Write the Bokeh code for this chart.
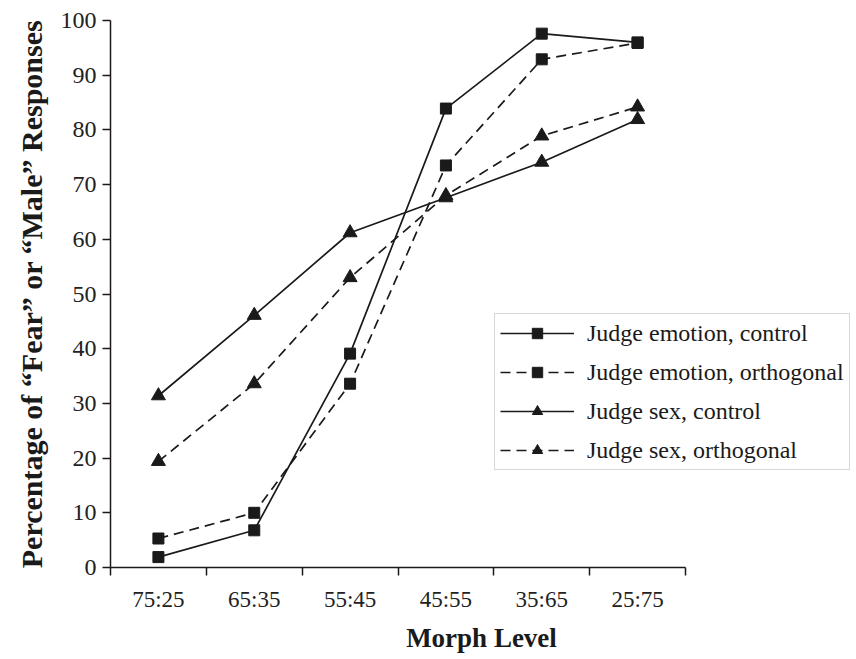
from bokeh.plotting import figure
from bokeh.models import FixedTicker, Legend, LegendItem, ColumnDataSource
from bokeh.embed import file_html
from bokeh.resources import INLINE

levels = ["75:25", "65:35", "55:45", "45:55", "35:65", "25:75"]
emotion_control = [1.9, 6.8, 39.1, 83.9, 97.6, 96.0]
emotion_orthogonal = [5.3, 10.0, 33.6, 73.5, 92.9, 95.9]
sex_control = [31.4, 46.1, 61.2, 67.6, 74.1, 81.9]
sex_orthogonal = [19.4, 33.6, 53.0, 68.0, 78.9, 84.2]
y_ticks = [0, 10, 20, 30, 40, 50, 60, 70, 80, 90, 100]

n = len(levels)
x_centers = [i + 0.5 for i in range(n)]
x_bounds = list(range(n + 1))

SERIF = "Liberation Serif"

W, H = 852, 655
LEFT, TOP, BOTTOM = 110, 20, 88
frame_w = W - LEFT
unit = 575 / n  # pixels per category
x_end = frame_w / unit

p = figure(width=W, height=H, x_range=(0, x_end), y_range=(0, 100),
           output_backend="svg", toolbar_location=None,
           min_border_left=LEFT, min_border_right=0, min_border_top=TOP, min_border_bottom=BOTTOM)
p.outline_line_color = None
p.grid.visible = False
p.background_fill_color = "white"

series = [
    ("Judge emotion, control", emotion_control, "square", "solid", 11),
    ("Judge emotion, orthogonal", emotion_orthogonal, "square", "10 6", 11),
    ("Judge sex, control", sex_control, "triangle", "solid", 14),
    ("Judge sex, orthogonal", sex_orthogonal, "triangle", "10 6", 14),
]

items = []
for name, vals, marker, dash, size in series:
    src = ColumnDataSource(dict(x=x_centers, y=vals))
    ln = p.line("x", "y", source=src, line_color="#1a1a1a", line_width=1.7, line_dash=dash)
    mk = p.scatter("x", "y", source=src, marker=marker, size=size,
                   fill_color="#1a1a1a", line_color="#1a1a1a")
    items.append(LegendItem(label=name, renderers=[ln, mk]))

legend = Legend(items=items, location=(384, 97), glyph_width=74, glyph_height=26,
                label_standoff=13, spacing=11, padding=5, margin=0,
                label_text_font=SERIF, label_text_font_size="24px", label_text_color="#1a1a1a",
                label_height=28,
                border_line_color="#b0b0b0", border_line_width=1.5,
                background_fill_alpha=1.0)
p.add_layout(legend, "center")

xa = p.xaxis[0]
xa.bounds = (0, n)
xa.ticker = FixedTicker(ticks=x_centers, minor_ticks=x_bounds)
xa.major_label_overrides = {c: lab for c, lab in zip(x_centers, levels)}
xa.major_tick_out = 0
xa.major_tick_in = 0
xa.minor_tick_out = 8
xa.minor_tick_in = 0
xa.minor_tick_line_color = "#1a1a1a"
xa.minor_tick_line_width = 1.5
xa.axis_line_color = "#1a1a1a"
xa.axis_line_width = 1.5
xa.major_label_text_font = SERIF
xa.major_label_text_font_size = "23px"
xa.major_label_text_color = "#222222"
xa.major_label_standoff = 11
xa.axis_label = "Morph Level"
xa.axis_label_text_font = SERIF
xa.axis_label_text_font_style = "bold"
xa.axis_label_text_font_size = "27px"
xa.axis_label_text_color = "#1a1a1a"
xa.axis_label_standoff = 8

ya = p.yaxis[0]
ya.ticker = FixedTicker(ticks=y_ticks, minor_ticks=[])
ya.major_tick_out = 8
ya.major_tick_in = 0
ya.major_tick_line_color = "#1a1a1a"
ya.major_tick_line_width = 1.5
ya.axis_line_color = "#1a1a1a"
ya.axis_line_width = 1.5
ya.major_label_text_font = SERIF
ya.major_label_text_font_size = "24px"
ya.major_label_text_color = "#222222"
ya.major_label_standoff = 6
ya.axis_label = "Percentage of \u201cFear\u201d or \u201cMale\u201d Responses"
ya.axis_label_text_font = SERIF
ya.axis_label_text_font_style = "bold"
ya.axis_label_text_font_size = "30px"
ya.axis_label_text_color = "#1a1a1a"
ya.axis_label_standoff = 10

open("out.html", "w").write(file_html(p, INLINE))
